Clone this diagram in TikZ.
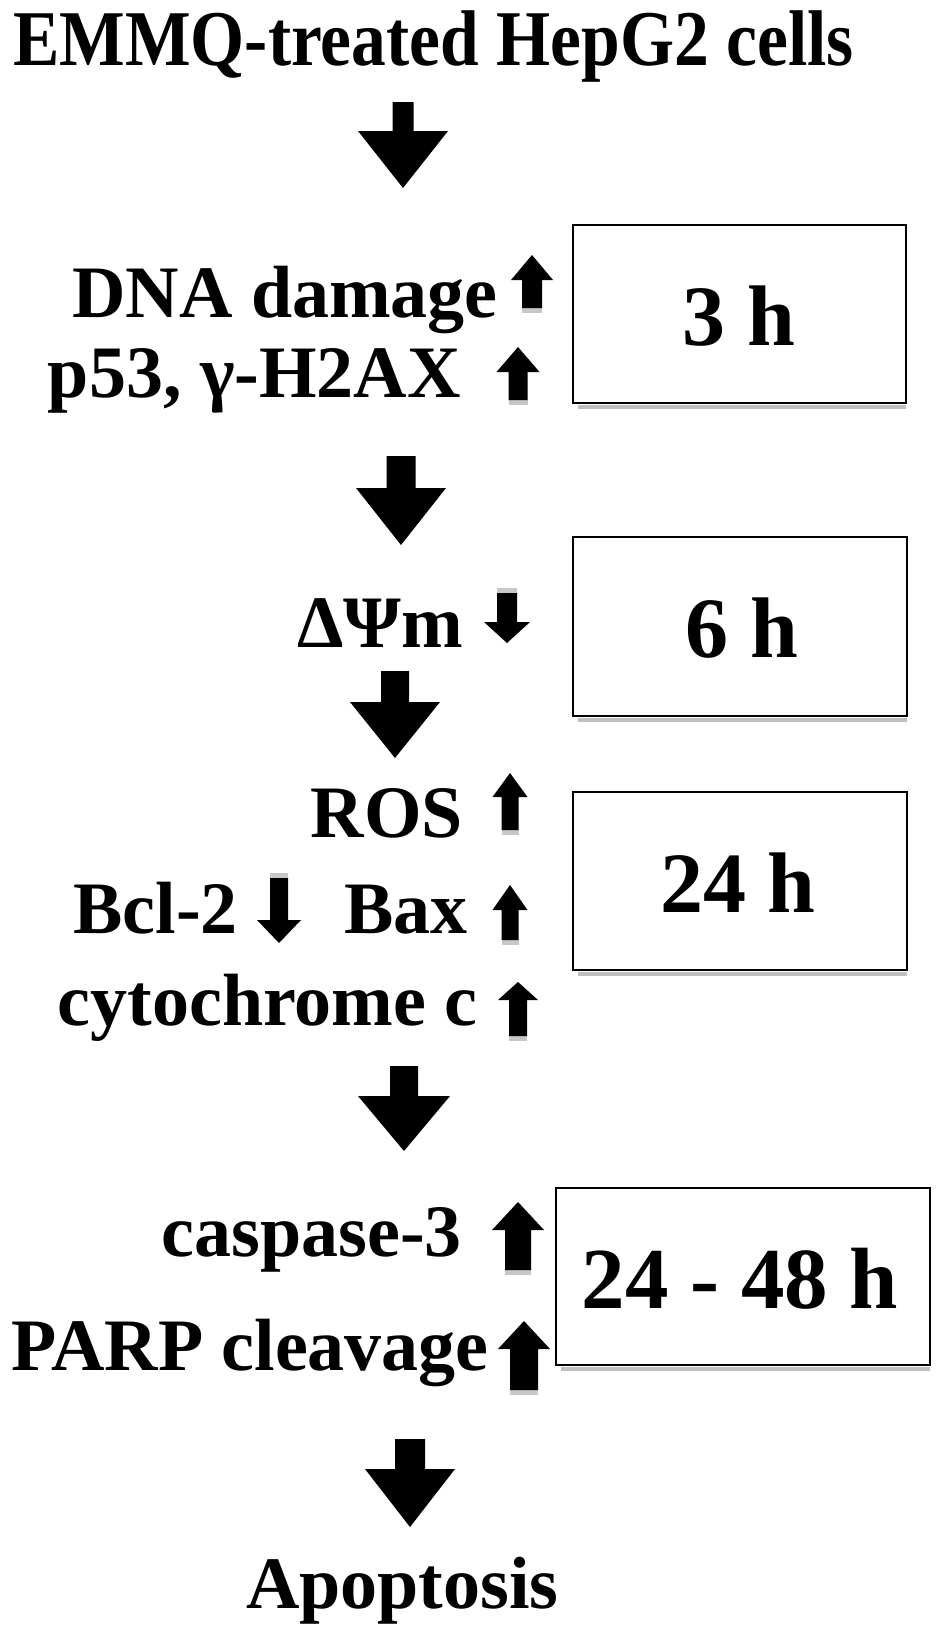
\documentclass[tikz,border=0pt]{standalone}
\usepackage{fontspec}
\setmainfont{Liberation Serif}
\newcommand\lblfont{\fontsize{74}{74}\selectfont\bfseries}
\newcommand\boxfont{\fontsize{86}{86}\selectfont\bfseries}
\newcommand\ttlfont{\fontsize{79}{79}\selectfont\bfseries}
% block arrow pointing down: x, top, headbase, tip, shafthalf, headhalf
\newcommand\blockdown[6]{%
  \fill ({#1-#5},{#2}) -- ({#1+#5},{#2}) -- ({#1+#5},{#3}) -- ({#1+#6},{#3})
    -- ({#1},{#4}) -- ({#1-#6},{#3}) -- ({#1-#5},{#3}) -- cycle;}
% small arrow pointing up: x, tip, headbase, bottom, shafthalf, headhalf
\newcommand\smallup[6]{%
  \fill[black!22] ({#1-#5},{#4}) rectangle ({#1+#5},{#4+5});
  \fill ({#1},{#2}) -- ({#1+#6},{#3}) -- ({#1+#5},{#3}) -- ({#1+#5},{#4})
    -- ({#1-#5},{#4}) -- ({#1-#5},{#3}) -- ({#1-#6},{#3}) -- cycle;}
% small arrow pointing down with shadow at top
\newcommand\smalldown[6]{%
  \fill[black!22] ({#1-#5},{#2-5}) rectangle ({#1+#5},{#2});
  \blockdown{#1}{#2}{#3}{#4}{#5}{#6}}
\tikzset{
  lbl/.style={inner sep=0pt, font=\lblfont, anchor=base east},
  timebox/.style={draw, line width=2.5pt, inner sep=0pt},
  timetxt/.style={inner sep=0pt, font=\boxfont, anchor=base},
  shadowbar/.style={black!25, line width=4pt}
}
\begin{document}
\begin{tikzpicture}[x=1pt,y=-1pt]
\fill[white] (0,0) rectangle (945,1644);
\useasboundingbox (0,0) rectangle (945,1644);

% title
\node[inner sep=0pt, anchor=base west, font=\ttlfont] (title) at (13,65)
  {\scalebox{0.88}[1]{EMMQ-treated HepG2 cells}};

% big arrows
\blockdown{403}{102}{131}{188}{10.5}{45}
\blockdown{401}{456}{488}{545}{14.5}{45}
\blockdown{395}{671}{702}{758}{14}{45}
\blockdown{404}{1066}{1096}{1151}{14}{46}
\blockdown{410}{1439}{1469}{1527}{15}{45}

% labels
\node[lbl] (dna) at (498,317) {DNA damage};
\node[lbl] (p53) at (461,397) {p53, γ-H2AX};
\node[lbl] (psi) at (463,647) {ΔΨm};
\node[lbl] (ros) at (463,837) {ROS};
\node[lbl] (bcl) at (238,933) {Bcl-2};
\node[lbl] (bax) at (468,933) {Bax};
\node[lbl] (cyt) at (478,1025) {cytochrome c};
\node[lbl] (casp) at (462,1256) {caspase-3};
\node[lbl] (parp) at (489,1370) {PARP cleavage};
\node[lbl, anchor=base west] (apop) at (246,1608) {Apoptosis};

% small arrows
\smallup{532}{255}{280}{308}{10}{21}
\smallup{518}{347}{372}{400}{9.5}{21.5}
\smalldown{507}{593}{622}{643}{10}{23}
\smallup{510}{773}{797}{830}{8.5}{17.5}
\smalldown{279}{878}{920}{943}{9}{22}
\smallup{510}{885}{910}{940}{8.5}{17.5}
\smallup{518}{982}{1000}{1036}{9}{20}
\smallup{518}{1202}{1230}{1270}{13}{26}
\smallup{524}{1321}{1349}{1390}{14}{26}

% time boxes with shadow
\draw[shadowbar] (578,407) -- (906,407);
\node[timebox, minimum width=333pt, minimum height=178pt] (b3) at (739.5,314) {};
\node[timetxt] (t3) at (739,345) {3 h};

\draw[shadowbar] (578,720) -- (907,720);
\node[timebox, minimum width=334pt, minimum height=179pt] (b6) at (740,626.5) {};
\node[timetxt] (t6) at (742,657) {6 h};

\draw[shadowbar] (578,974) -- (907,974);
\node[timebox, minimum width=334pt, minimum height=178pt] (b24) at (740,881) {};
\node[timetxt] (t24) at (738,912) {24 h};

\draw[shadowbar] (561,1369) -- (930,1369);
\node[timebox, minimum width=374pt, minimum height=177pt] (b48) at (743,1276.5) {};
\node[timetxt, font=\fontsize{87}{87}\selectfont\bfseries] (t48) at (740,1308) {24 - 48 h};
\end{tikzpicture}
\end{document}
